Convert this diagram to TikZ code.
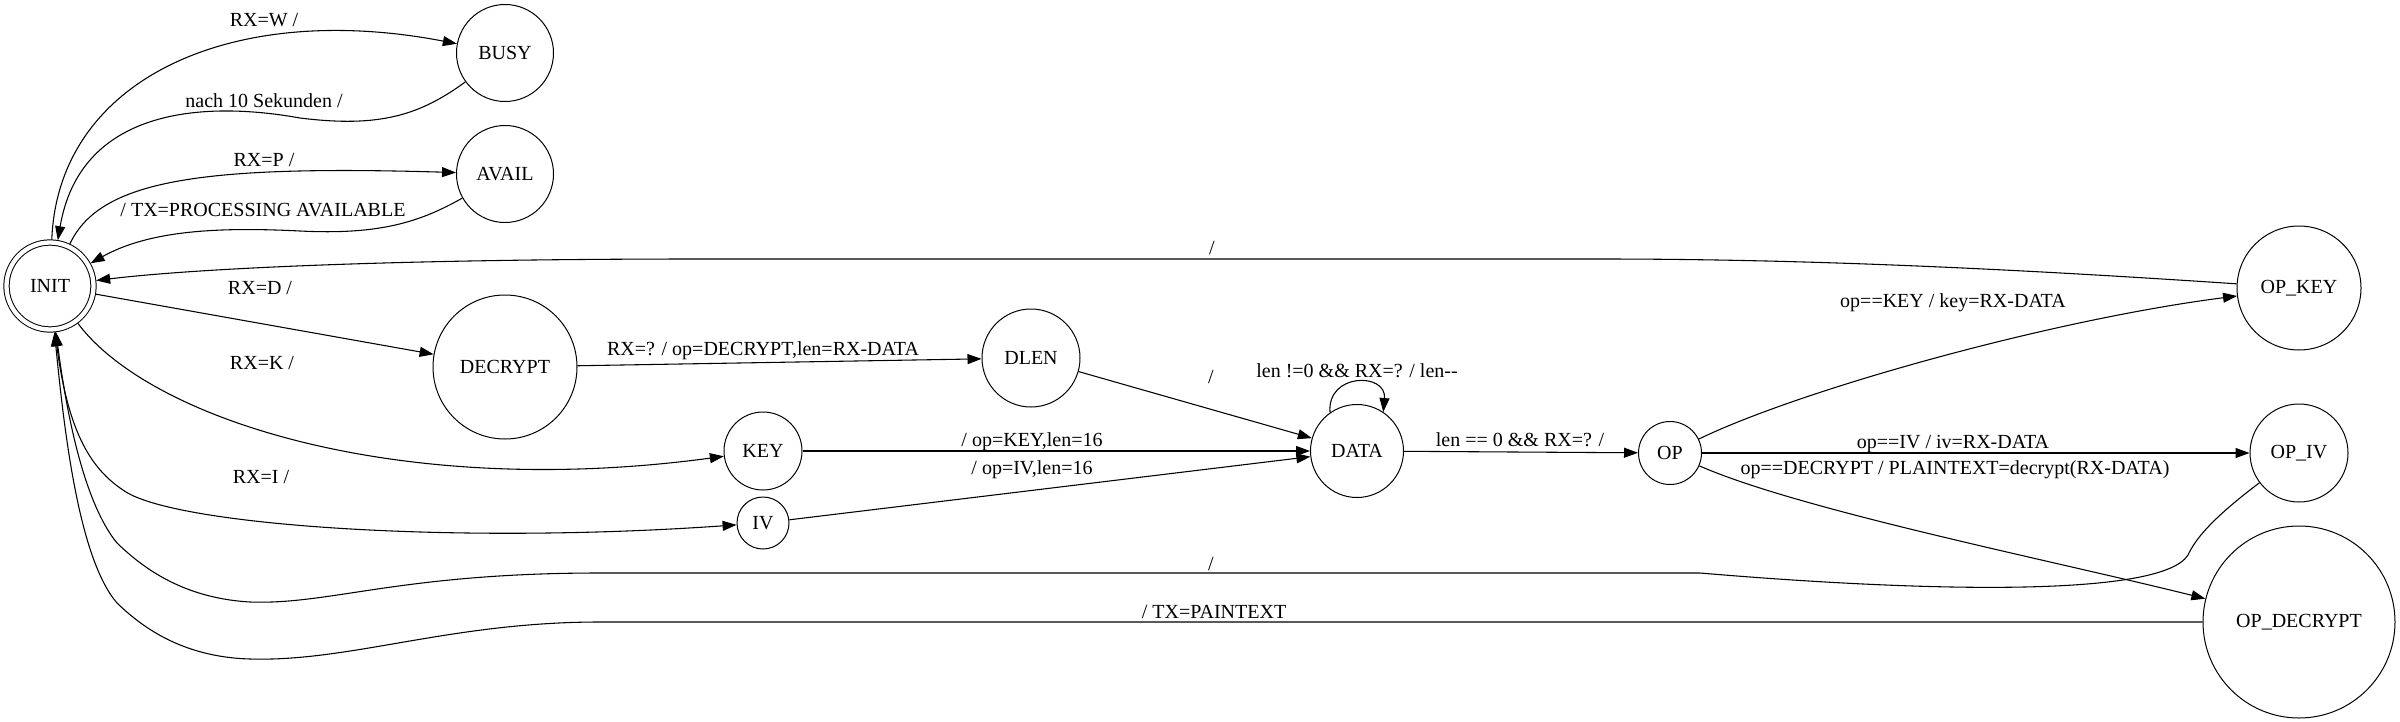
\documentclass[tikz,border=0pt]{standalone}
\usepackage{fontspec}
\setmainfont{Liberation Serif}
\usetikzlibrary{arrows.meta}
\newlength\px
\setlength\px{0.7pt}

\begin{document}
\begin{tikzpicture}[x=\px, y=-\px, font=\fontsize{14}{16}\selectfont,
  state/.style={draw, circle, inner sep=0pt, line width=0.7pt},
  accept/.style={state, double, double distance=4.3\px, outer sep=3\px},
  lbl/.style={anchor=base, inner sep=0pt, yshift=-4.6pt},
  edge/.style={->, line width=0.75pt},
  >={Triangle[length=9.8pt,width=7pt]}]

  \useasboundingbox (0,0) rectangle (2400,722);

  % --- States ---
  \node[accept, minimum size=87\px]  (init)      at (50,286)   {INIT};
  \node[state, minimum size=97\px]   (busy)      at (505,53)   {BUSY};
  \node[state, minimum size=97\px]   (avail)     at (505,174)  {AVAIL};
  \node[state, minimum size=144\px]  (decrypt)   at (505,367)  {DECRYPT};
  \node[state, minimum size=98\px]   (dlen)      at (1031,358) {DLEN};
  \node[state, minimum size=78\px]   (key)       at (763,451)  {KEY};
  \node[state, minimum size=52\px]   (iv)        at (763,523)  {IV};
  \node[state, minimum size=93\px]   (data)      at (1357,451) {DATA};
  \node[state, minimum size=63\px]   (op)        at (1670,453) {OP};
  \node[state, minimum size=124\px]  (opkey)     at (2299,288) {OP\_KEY};
  \node[state, minimum size=98\px]   (opiv)      at (2299,453) {OP\_IV};
  \node[state, minimum size=192\px]  (opdecrypt) at (2299,622) {OP\_DECRYPT};

  % --- INIT <-> BUSY ---
  \draw[edge] (init) .. controls (58,80) and (230,0) .. (busy);
  \node[lbl] (lw) at (264,20) {RX=W /};
  \draw[edge] (busy) .. controls (420,115) and (380,128) .. (300,118)
    .. controls (200,100) and (80,110) .. (init);
  \node[lbl] (lnach) at (264,101) {nach 10 Sekunden /};

  % --- INIT <-> AVAIL ---
  \draw[edge] (init) .. controls (100,180) and (200,165) .. (avail);
  \node[lbl] (lp) at (264,160) {RX=P /};
  \draw[edge] (avail) .. controls (420,222) and (380,235) .. (300,231)
    .. controls (220,227) and (150,230) .. (init);
  \node[lbl] (lavail) at (263,210) {/ TX=PROCESSING AVAILABLE};

  % --- OP_KEY -> INIT ---
  \draw[edge] (opkey) .. controls (2000,268) and (1800,259) .. (1600,259)
    -- (700,259) .. controls (400,259) and (200,268) .. (init);
  \node[lbl] (lopkey) at (1212,248) {/};

  % --- INIT -> DECRYPT, KEY, IV ---
  \draw[edge] (init) -- (decrypt);
  \node[lbl] (ld) at (260,288) {RX=D /};
  \draw[edge] (init) .. controls (150,420) and (400,500) .. (key);
  \node[lbl] (lk) at (262,363) {RX=K /};
  \draw[edge] (init) .. controls (65,420) and (85,465) .. (123,490)
    .. controls (170,525) and (450,545) .. (iv);
  \node[lbl] (li) at (261,477) {RX=I /};

  % --- OP_IV -> INIT ---
  \draw[edge] (opiv) .. controls (2210,520) and (2195,540) .. (2188,555)
    .. controls (2160,600) and (1900,590) .. (1700,573) -- (600,573)
    .. controls (400,573) and (330,605) .. (250,602)
    .. controls (180,598) and (140,565) .. (117,543)
    .. controls (90,510) and (70,440) .. (init);
  \node[lbl] (lopiv) at (1211,564) {/};

  % --- OP_DECRYPT -> INIT ---
  \draw[edge] (opdecrypt) -- (600,622)
    .. controls (450,622) and (350,662) .. (250,659)
    .. controls (180,657) and (140,625) .. (117,603)
    .. controls (80,560) and (65,440) .. (init);
  \node[lbl] (lopdec) at (1214,612) {/ TX=PAINTEXT};

  % --- DECRYPT -> DLEN -> DATA ---
  \draw[edge] (decrypt) -- (dlen);
  \node[lbl] (ldec) at (763,349) {RX=? / op=DECRYPT,len=RX-DATA};
  \draw[edge] (dlen) -- (data);
  \node[lbl] (ldlen) at (1211,377) {/};

  % --- KEY, IV -> DATA ---
  \draw[edge] (key) -- (data);
  \node[lbl] (lkey) at (1032,440) {/ op=KEY,len=16};
  \draw[edge] (iv) -- (data);
  \node[lbl] (liv) at (1032,468) {/ op=IV,len=16};

  % --- DATA loop and DATA -> OP ---
  \draw[edge] (data.125) .. controls +(95:28pt) and +(85:28pt) .. (data.56);
  \node[lbl] (lloop) at (1357,371) {len !=0 \&\& RX=? / len{-}{-}};
  \draw[edge] (data) -- (op);
  \node[lbl] (lop) at (1520,440) {len == 0 \&\& RX=? /};

  % --- OP -> OP_KEY, OP_IV, OP_DECRYPT ---
  \draw[edge] (op) .. controls (1800,390) and (2050,320) .. (opkey);
  \node[lbl] (lkeyop) at (1953,301) {op==KEY / key=RX-DATA};
  \draw[edge] (op) -- (opiv);
  \node[lbl] (livop) at (1953,442) {op==IV / iv=RX-DATA};
  \draw[edge] (op) .. controls (1800,510) and (2050,560) .. (opdecrypt);
  \node[lbl] (ldecop) at (1955,468) {op==DECRYPT / PLAINTEXT=decrypt(RX-DATA)};

\end{tikzpicture}
\end{document}
